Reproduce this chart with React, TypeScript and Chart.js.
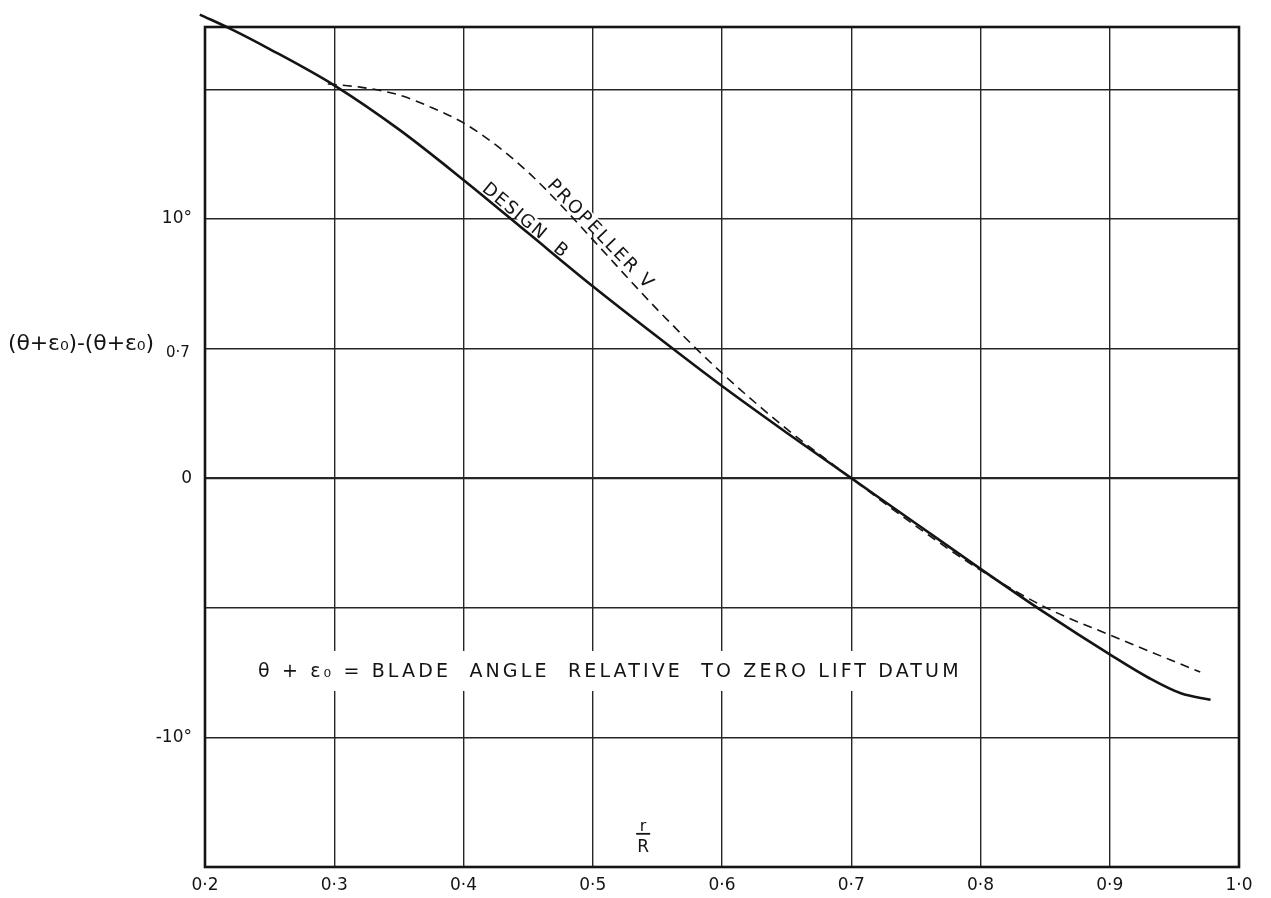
import React, { useEffect, useRef } from 'react';
import { Chart, registerables } from 'chart.js';

Chart.register(...registerables);

// ---------- data ----------
const xTickValues = [0.2, 0.3, 0.4, 0.5, 0.6, 0.7, 0.8, 0.9, 1.0];
const xTickLabels = ['0·2', '0·3', '0·4', '0·5', '0·6', '0·7', '0·8', '0·9', '1·0'];
const yTickValues = [-15, -10, -5, 0, 5, 10, 15];
const yTickLabels = ['', '-10°', '', '0', '', '10°', ''];

const designBX = [0.196, 0.221, 0.25, 0.3, 0.35, 0.4, 0.45, 0.5, 0.55, 0.6, 0.65, 0.7, 0.75, 0.8, 0.85, 0.9, 0.93, 0.955, 0.978];
const designBY = [17.88, 17.3, 16.55, 15.15, 13.45, 11.5, 9.45, 7.4, 5.45, 3.55, 1.75, 0.0, -1.75, -3.5, -5.2, -6.8, -7.7, -8.3, -8.55];

const propellerX = [0.295, 0.32, 0.35, 0.375, 0.4, 0.425, 0.45, 0.475, 0.5, 0.55, 0.6, 0.65, 0.7, 0.75, 0.8, 0.85, 0.9, 0.97];
const propellerY = [15.2, 15.08, 14.78, 14.3, 13.7, 12.85, 11.8, 10.55, 9.2, 6.5, 4.05, 1.9, 0.0, -1.85, -3.55, -4.98, -6.05, -7.48];

const seriesNames = ['DESIGN  B', 'PROPELLER V'];
const yAxisTitle = '(θ+ε₀)-(θ+ε₀)';
const yAxisTitleSub = '0·7';
const xAxisTitleTop = 'r';
const xAxisTitleBottom = 'R';
const noteText = 'θ + ε₀ = BLADE  ANGLE  RELATIVE  TO ZERO LIFT DATUM';

// ---------- label placement (data coordinates) ----------
const designLabel = { x: 0.4454, y: 9.78, angle: 40 };
const propellerLabel = { x: 0.5034, y: 9.25, angle: 46 };
const noteBox = { x0: 0.241, x1: 0.783, y: -7.67 };
const rOverR = { x: 0.539, y: -13.72 };

const FONT = '"DejaVu Sans", "Liberation Sans", Arial, sans-serif';
const INK = '#141414';

function setSpacing(ctx: any, px: number) {
  if ('letterSpacing' in ctx) ctx.letterSpacing = px + 'px';
}

function drawFitted(ctx: any, text: string, x: number, y: number, width: number) {
  setSpacing(ctx, 0);
  const w = ctx.measureText(text).width;
  const n = Array.from(text).length;
  const sp = n > 1 ? (width - w) / (n - 1) : 0;
  setSpacing(ctx, sp);
  ctx.fillText(text, x, y);
  setSpacing(ctx, 0);
}

function drawRotated(ctx: any, text: string, px: number, py: number, angleDeg: number, size: number, spacing: number) {
  ctx.save();
  ctx.translate(px, py);
  ctx.rotate((angleDeg * Math.PI) / 180);
  ctx.font = `${size}px ${FONT}`;
  setSpacing(ctx, spacing);
  const w = ctx.measureText(text).width;
  ctx.fillStyle = '#ffffff';
  ctx.fillRect(-w / 2 - 2, -size * 0.8, w + 4, size * 0.74);
  ctx.fillStyle = INK;
  ctx.textAlign = 'left';
  ctx.textBaseline = 'alphabetic';
  ctx.fillText(text, -w / 2, 0);
  setSpacing(ctx, 0);
  ctx.restore();
}

const labelsPlugin = {
  id: 'drawingLabels',
  afterDatasetsDraw(chart: any) {
    const { ctx, chartArea: a, scales } = chart;
    const xs = scales.x;
    const ys = scales.y;
    ctx.save();

    // frame
    ctx.strokeStyle = INK;
    ctx.lineWidth = 2.6;
    ctx.strokeRect(a.left, a.top, a.right - a.left, a.bottom - a.top);

    // note
    const nx0 = xs.getPixelForValue(noteBox.x0);
    const nx1 = xs.getPixelForValue(noteBox.x1);
    const ny = ys.getPixelForValue(noteBox.y);
    ctx.fillStyle = '#ffffff';
    ctx.fillRect(nx0 - 6, ny - 26, nx1 - nx0 + 10, 40);
    ctx.fillStyle = INK;
    ctx.font = `19px ${FONT}`;
    ctx.textAlign = 'left';
    ctx.textBaseline = 'alphabetic';
    drawFitted(ctx, noteText, nx0, ny, nx1 - nx0);

    // rotated curve labels
    drawRotated(ctx, seriesNames[0], xs.getPixelForValue(designLabel.x), ys.getPixelForValue(designLabel.y), designLabel.angle, 18, 1.5);
    drawRotated(ctx, seriesNames[1], xs.getPixelForValue(propellerLabel.x), ys.getPixelForValue(propellerLabel.y), propellerLabel.angle, 18, 2.2);

    // r / R
    const rx = xs.getPixelForValue(rOverR.x);
    const ry = ys.getPixelForValue(rOverR.y);
    ctx.fillStyle = INK;
    ctx.textAlign = 'center';
    ctx.textBaseline = 'alphabetic';
    ctx.font = `16px ${FONT}`;
    ctx.fillText(xAxisTitleTop, rx, ry - 3);
    ctx.beginPath();
    ctx.moveTo(rx - 7, ry);
    ctx.lineTo(rx + 7, ry);
    ctx.lineWidth = 1.8;
    ctx.strokeStyle = INK;
    ctx.stroke();
    ctx.font = `17px ${FONT}`;
    ctx.fillText(xAxisTitleBottom, rx, ry + 18);

    // y axis title
    const ty = ys.getPixelForValue(5);
    ctx.textAlign = 'left';
    ctx.textBaseline = 'alphabetic';
    ctx.font = `22px ${FONT}`;
    drawFitted(ctx, yAxisTitle, 8, ty + 2, 146);
    ctx.font = `15px ${FONT}`;
    ctx.fillText(yAxisTitleSub, a.left - 39, ty + 9);

    ctx.restore();
  },
};

export default function App() {
  const ref = useRef<HTMLCanvasElement>(null);

  useEffect(() => {
    const canvas = ref.current;
    if (!canvas) return;
    Chart.defaults.font.family = FONT;
    Chart.defaults.color = INK;

    const chart = new Chart(canvas, {
      type: 'line',
      data: {
        datasets: [
          {
            label: seriesNames[0],
            data: designBX.map((x, i) => ({ x, y: designBY[i] })),
            borderColor: INK,
            borderWidth: 2.6,
            pointRadius: 0,
            fill: false,
            cubicInterpolationMode: 'monotone',
            clip: false as any,
          },
          {
            label: seriesNames[1],
            data: propellerX.map((x, i) => ({ x, y: propellerY[i] })),
            borderColor: INK,
            borderWidth: 1.6,
            borderDash: [9, 6],
            pointRadius: 0,
            fill: false,
            cubicInterpolationMode: 'monotone',
            clip: false as any,
          },
        ],
      },
      options: {
        animation: false,
        responsive: false,
        devicePixelRatio: 1,
        layout: { padding: { left: 0, right: 32, top: 27, bottom: 0 } },
        plugins: {
          legend: { display: false },
          tooltip: { enabled: false },
        },
        scales: {
          x: {
            type: 'linear',
            min: 0.2,
            max: 1.0,
            afterBuildTicks: (scale: any) => {
              scale.ticks = xTickValues.map((v) => ({ value: v }));
            },
            afterFit: (scale: any) => {
              scale.height = 31;
            },
            border: { display: false },
            grid: { color: '#262626', lineWidth: 1.4, drawTicks: false },
            ticks: {
              padding: 8,
              maxRotation: 0,
              autoSkip: false,
              font: { size: 17 },
              color: INK,
              callback: (_v: any, i: number) => xTickLabels[i] ?? '',
            },
          },
          y: {
            type: 'linear',
            min: -15,
            max: 17.4,
            afterBuildTicks: (scale: any) => {
              scale.ticks = yTickValues.map((v) => ({ value: v }));
            },
            afterFit: (scale: any) => {
              scale.width = 205;
            },
            border: { display: false },
            grid: {
              color: '#262626',
              lineWidth: (c: any) => (c.tick && c.tick.value === 0 ? 2.2 : 1.4),
              drawTicks: false,
            },
            ticks: {
              padding: 13,
              autoSkip: false,
              font: { size: 17 },
              color: INK,
              callback: (_v: any, i: number) => yTickLabels[i] ?? '',
            },
          },
        },
      },
      plugins: [labelsPlugin],
    } as any);

    return () => chart.destroy();
  }, []);

  return (
    <div style={{ position: 'absolute', left: 0, top: 0, width: 1271, height: 898, background: '#ffffff' }}>
      <canvas ref={ref} width={1271} height={898} style={{ display: 'block', width: 1271, height: 898 }} />
    </div>
  );
}
